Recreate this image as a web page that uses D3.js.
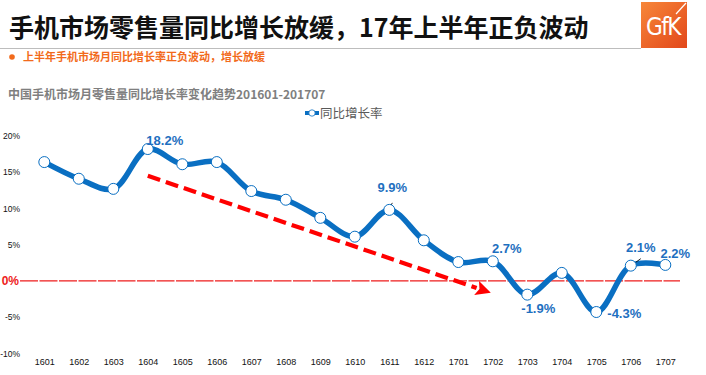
<!DOCTYPE html>
<html>
<head>
<meta charset="utf-8">
<script src="https://cdn.jsdelivr.net/npm/d3@7"></script>
<style>
  html, body { margin: 0; padding: 0; background: #fff; }
  svg { display: block; font-family: Arial, "Liberation Sans", "Noto Sans CJK SC", sans-serif; }
</style>
</head>
<body>
<svg id="chart" width="706" height="375"></svg>
<script>
// months shown on the x axis
var months = ['1601','1602','1603','1604','1605','1606','1607','1608','1609','1610',
              '1611','1612','1701','1702','1703','1704','1705','1706','1707'];
// year-on-year growth of retail volume, %
var growth = [16.4, 14.1, 12.7, 18.2, 16.1, 16.4, 12.4, 11.2, 8.7, 6.1,
              9.8, 5.6, 2.6, 2.7, -1.9, 1.1, -4.3, 2.1, 2.2];
var yTicks = [-10, -5, 5, 10, 15, 20];
var labelled = ['1604', '1611', '1702', '1703', '1705', '1706', '1707'];
var labelText = ['18.2%', '9.9%', '2.7%', '-1.9%', '-4.3%', '2.1%', '2.2%'];

var svg = d3.select('#chart');
var BLUE = '#0a6fc2';

// ---- header ----
svg.append('text').attr('x', 9).attr('y', 37)
    .attr('font-size', 25).attr('font-weight', 'bold').attr('fill', '#111')
    .attr('font-family', '"Noto Sans CJK SC", sans-serif')
    .text('手机市场零售量同比增长放缓，17年上半年正负波动');
svg.append('line').attr('x1', 0).attr('x2', 641).attr('y1', 48.5).attr('y2', 48.5)
    .attr('stroke', '#bdbdbd').attr('stroke-width', 1);

var grad = svg.append('defs').append('linearGradient').attr('id', 'logo')
    .attr('x1', '0').attr('y1', '0').attr('x2', '1').attr('y2', '1');
grad.append('stop').attr('offset', '0').attr('stop-color', '#f7873a');
grad.append('stop').attr('offset', '1').attr('stop-color', '#e2471a');
svg.append('rect').attr('x', 641).attr('y', 2).attr('width', 46).attr('height', 46)
    .attr('fill', 'url(#logo)');
svg.append('text').attr('x', 663).attr('y', 35).attr('text-anchor', 'middle')
    .attr('font-size', 24).attr('fill', '#fff')
    .attr('font-family', '"DejaVu Sans Condensed", "Liberation Sans Narrow", sans-serif')
    .attr('letter-spacing', -1.5).text('GfK');
svg.append('line').attr('x1', 676).attr('y1', 14).attr('x2', 686).attr('y2', 3)
    .attr('stroke', '#fff').attr('stroke-width', 1.2);

svg.append('circle').attr('cx', 12).attr('cy', 57).attr('r', 2.8).attr('fill', '#f26a1b');
svg.append('text').attr('x', 23).attr('y', 61)
    .attr('font-size', 11).attr('fill', '#f26a1b').attr('font-weight', 'bold')
    .attr('font-family', '"Noto Sans CJK SC", sans-serif')
    .text('上半年手机市场月同比增长率正负波动，增长放缓');
svg.append('text').attr('x', 8).attr('y', 99)
    .attr('font-size', 12).attr('fill', '#7f7f7f').attr('font-weight', 'bold')
    .attr('font-family', '"Noto Sans CJK SC", sans-serif')
    .text('中国手机市场月零售量同比增长率变化趋势201601-201707');

// legend
svg.append('line').attr('x1', 305).attr('x2', 319).attr('y1', 113).attr('y2', 113)
    .attr('stroke', BLUE).attr('stroke-width', 4);
svg.append('circle').attr('cx', 312).attr('cy', 113).attr('r', 3.2)
    .attr('fill', '#fff').attr('stroke', BLUE).attr('stroke-width', 0.8);
svg.append('text').attr('x', 320).attr('y', 118)
    .attr('font-size', 12.5).attr('fill', '#595959')
    .attr('font-family', '"Noto Sans CJK SC", sans-serif')
    .text('同比增长率');

// ---- scales ----
var x = d3.scalePoint().domain(months).range([44.3, 665.3]);
var y = d3.scaleLinear().domain([-10, 20]).range([353.3, 136]);

// y axis labels
svg.append('g').attr('transform', 'translate(20,0)')
    .call(d3.axisLeft(y).tickValues(yTicks).tickSize(0).tickPadding(0)
        .tickFormat(function (d) { return d + '%'; }))
    .call(function (g) { g.select('.domain').remove(); })
    .selectAll('text').attr('font-size', 8.5).attr('fill', '#111')
    .attr('font-family', 'Arial, "Liberation Sans", sans-serif');

// x axis labels
svg.append('g').attr('transform', 'translate(0,358)')
    .call(d3.axisBottom(x).tickSize(0).tickPadding(1))
    .call(function (g) { g.select('.domain').remove(); })
    .selectAll('text').attr('font-size', 9).attr('fill', '#111')
    .attr('font-family', 'Arial, "Liberation Sans", sans-serif');

// zero line
svg.append('line').attr('x1', 20).attr('x2', 680)
    .attr('y1', y(0)).attr('y2', y(0))
    .attr('stroke', '#ee1c1c').attr('stroke-width', 1.2)
    .attr('stroke-dasharray', '18,1.5');
svg.append('text').attr('x', 19).attr('y', y(0) + 4.5).attr('text-anchor', 'end')
    .attr('font-size', 12).attr('font-weight', 'bold').attr('fill', '#ee1c1c')
    .text('0%');

// trend arrow
var ax0 = x('1604'), ay0 = y(14.5), ax1 = x('1702') - 2, ay1 = y(-1.65);
var ang = Math.atan2(ay1 - ay0, ax1 - ax0);
var back = 15;
svg.append('line')
    .attr('x1', ax0).attr('y1', ay0)
    .attr('x2', ax1 - back * Math.cos(ang)).attr('y2', ay1 - back * Math.sin(ang))
    .attr('stroke', '#ff0000').attr('stroke-width', 4.2)
    .attr('stroke-dasharray', '13,6');
var hw = 7.5;
var bx = ax1 - back * Math.cos(ang), by = ay1 - back * Math.sin(ang);
svg.append('path')
    .attr('d', 'M' + ax1 + ',' + ay1 +
        'L' + (bx - hw * Math.sin(ang)) + ',' + (by + hw * Math.cos(ang)) +
        'L' + (bx + 3 * Math.cos(ang)) + ',' + (by + 3 * Math.sin(ang)) +
        'L' + (bx + hw * Math.sin(ang)) + ',' + (by - hw * Math.cos(ang)) + 'Z')
    .attr('fill', '#ff0000');

// series
var pts = months.map(function (m, i) { return { m: m, v: growth[i] }; });
svg.append('path').datum(pts)
    .attr('fill', 'none').attr('stroke', BLUE).attr('stroke-width', 5.5)
    .attr('stroke-linejoin', 'round')
    .attr('d', d3.line().curve(d3.curveCatmullRom.alpha(0.5))
        .x(function (d) { return x(d.m); }).y(function (d) { return y(d.v); }));

// leader lines
var leaders = [['1611', 3, -7], ['1706', 10, -7]];
leaders.forEach(function (l) {
    var i = months.indexOf(l[0]);
    var cx = x(l[0]), cy = y(growth[i]);
    svg.append('line').attr('x1', cx - 1).attr('y1', cy + 1)
        .attr('x2', cx + l[1]).attr('y2', cy + l[2])
        .attr('stroke', '#111').attr('stroke-width', 0.9);
});

svg.append('g').selectAll('circle').data(pts).enter().append('circle')
    .attr('cx', function (d) { return x(d.m); })
    .attr('cy', function (d) { return y(d.v); })
    .attr('r', 5.5).attr('fill', '#fff').attr('stroke', BLUE).attr('stroke-width', 1);

// data labels (offsets from the point)
var offs = { '1604': [17, -4], '1611': [3, -18], '1702': [14, -8.5], '1703': [11, 18],
             '1705': [28, 5.6], '1706': [10, -14], '1707': [10, -7] };
labelled.forEach(function (m, k) {
    var i = months.indexOf(m);
    svg.append('text')
        .attr('x', x(m) + offs[m][0]).attr('y', y(growth[i]) + offs[m][1])
        .attr('text-anchor', 'middle')
        .attr('font-size', 13).attr('font-weight', 'bold').attr('fill', '#1e6fc0')
        .text(labelText[k]);
});
</script>
</body>
</html>
